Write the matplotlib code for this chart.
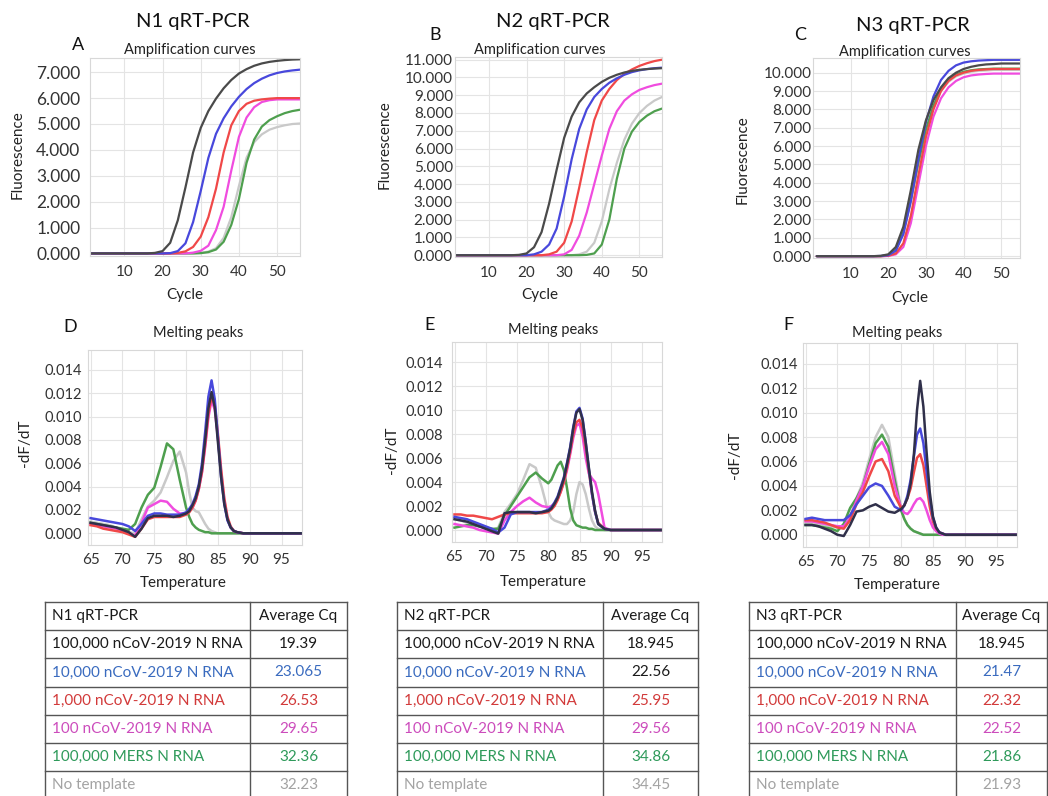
import matplotlib
matplotlib.use("Agg")
import matplotlib.pyplot as plt
from matplotlib.ticker import FormatStrFormatter

plt.rcParams['font.family'] = ['Lato', 'DejaVu Sans']

W, H = 1048, 796

# ---- table data
samples = ["100,000 nCoV-2019 N RNA", "10,000 nCoV-2019 N RNA", "1,000 nCoV-2019 N RNA",
           "100 nCoV-2019 N RNA", "100,000 MERS N RNA", "No template"]
assays = ["N1 qRT-PCR", "N2 qRT-PCR", "N3 qRT-PCR"]
cq_n1 = [19.39, 23.065, 26.53, 29.65, 32.36, 32.23]
cq_n2 = [18.945, 22.56, 25.95, 29.56, 34.86, 34.45]
cq_n3 = [18.945, 21.47, 22.32, 22.52, 21.86, 21.93]

# ---- amplification curves (fluorescence)
cycles = [1, 10, 16, 18, 20, 22, 24, 26, 28, 30, 32, 34, 36, 38, 40, 42, 44, 46, 48, 50, 52, 54, 56]

n1_black = [0, 0, 0, 0.02, 0.09, 0.41, 1.28, 2.55, 3.90, 4.85, 5.5, 5.98, 6.38, 6.7, 6.95, 7.12, 7.25, 7.34, 7.4, 7.44, 7.47, 7.49, 7.5]
n1_blue = [0, 0, 0, 0, 0, 0.01, 0.09, 0.39, 1.21, 2.41, 3.69, 4.62, 5.22, 5.68, 6.05, 6.35, 6.58, 6.75, 6.88, 6.97, 7.03, 7.07, 7.1]
n1_red = [0, 0, 0, 0, 0, 0, 0.02, 0.08, 0.25, 0.65, 1.4, 2.5, 3.9, 4.95, 5.5, 5.78, 5.9, 5.95, 5.98, 6.0, 6.0, 6.0, 6.0]
n1_magenta = [0, 0, 0, 0, 0, 0, 0, 0, 0.03, 0.1, 0.3, 0.9, 1.8, 3.2, 4.5, 5.25, 5.65, 5.85, 5.92, 5.95, 5.95, 5.95, 5.95]
n1_green = [0, 0, 0, 0, 0, 0, 0, 0, 0, 0.01, 0.05, 0.15, 0.45, 1.1, 2.1, 3.5, 4.4, 4.9, 5.15, 5.3, 5.42, 5.5, 5.55]
n1_gray = [0, 0, 0, 0, 0, 0, 0, 0, 0, 0.02, 0.07, 0.2, 0.6, 1.4, 2.6, 3.7, 4.3, 4.6, 4.78, 4.88, 4.95, 5.0, 5.02]

n2_black = [0, 0, 0, 0.02, 0.1, 0.45, 1.3, 2.9, 4.8, 6.6, 7.8, 8.6, 9.1, 9.45, 9.75, 9.98, 10.15, 10.28, 10.37, 10.43, 10.47, 10.5, 10.52]
n2_blue = [0, 0, 0, 0, 0, 0.05, 0.2, 0.6, 1.5, 3.3, 5.4, 7.1, 8.2, 8.9, 9.35, 9.7, 9.95, 10.15, 10.3, 10.4, 10.47, 10.52, 10.55]
n2_red = [0, 0, 0, 0, 0, 0, 0, 0.05, 0.2, 0.7, 1.9, 3.8, 5.8, 7.6, 8.7, 9.35, 9.85, 10.2, 10.45, 10.65, 10.8, 10.92, 11.0]
n2_magenta = [0, 0, 0, 0, 0, 0, 0, 0, 0, 0.05, 0.3, 1.1, 2.4, 4.0, 5.6, 7.1, 8.1, 8.7, 9.05, 9.3, 9.45, 9.57, 9.65]
n2_green = [0, 0, 0, 0, 0, 0, 0, 0, 0, 0, 0, 0, 0.02, 0.1, 0.6, 2.0, 4.3, 6.0, 6.95, 7.5, 7.85, 8.1, 8.25]
n2_gray = [0, 0, 0, 0, 0, 0, 0, 0, 0, 0, 0, 0.05, 0.2, 0.7, 1.9, 3.7, 5.2, 6.5, 7.4, 8.0, 8.4, 8.7, 8.9]

n3_black = [0, 0, 0, 0.02, 0.1, 0.5, 1.6, 3.6, 5.8, 7.4, 8.5, 9.2, 9.7, 10.0, 10.2, 10.32, 10.4, 10.45, 10.47, 10.5, 10.5, 10.5, 10.5]
n3_blue = [0, 0, 0, 0.01, 0.05, 0.3, 1.2, 3.0, 5.3, 7.3, 8.7, 9.6, 10.1, 10.4, 10.55, 10.62, 10.66, 10.68, 10.7, 10.7, 10.7, 10.7, 10.7]
n3_red = [0, 0, 0, 0, 0.02, 0.15, 0.7, 2.2, 4.4, 6.5, 8.0, 9.0, 9.55, 9.85, 10.0, 10.1, 10.15, 10.18, 10.2, 10.2, 10.2, 10.2, 10.2]
n3_magenta = [0, 0, 0, 0, 0.01, 0.1, 0.5, 1.8, 3.9, 6.0, 7.6, 8.6, 9.2, 9.55, 9.75, 9.85, 9.9, 9.93, 9.95, 9.95, 9.95, 9.95, 9.95]
n3_green = [0, 0, 0, 0, 0.05, 0.35, 1.3, 3.1, 5.1, 6.9, 8.2, 9.1, 9.6, 9.9, 10.05, 10.13, 10.18, 10.2, 10.22, 10.22, 10.22, 10.22, 10.22]
n3_gray = [0, 0, 0, 0, 0.03, 0.3, 1.2, 3.0, 5.0, 6.8, 8.1, 9.0, 9.5, 9.8, 9.95, 10.05, 10.1, 10.12, 10.15, 10.15, 10.15, 10.15, 10.15]

# ---- melting peaks (-dF/dT); half-degree steps around the main peaks
temps = [65, 66, 67, 68, 69, 70, 71, 72, 73, 74, 75, 76, 77, 78, 79,
         80, 80.5, 81, 81.5, 82, 82.5, 83, 83.5, 84, 84.5, 85, 85.5, 86, 86.5, 87, 87.5, 88,
         89, 90, 94, 98]

m1_black = [0.0009, 0.0008, 0.0007, 0.0006, 0.0005, 0.0003, 0.0001, -0.0003, 0.0004, 0.0013, 0.0015, 0.0015, 0.0015, 0.0014, 0.0015,
            0.0017, 0.0019, 0.0024, 0.0030, 0.0040, 0.0056, 0.0080, 0.0107, 0.0121, 0.0108, 0.0078, 0.0048, 0.0025, 0.0012, 0.0005, 0.0002, 0.0001,
            0, 0, 0, 0]
m1_blue = [0.0013, 0.0012, 0.0011, 0.0010, 0.0009, 0.0008, 0.0006, 0.0002, 0.0008, 0.0015, 0.0017, 0.0017, 0.0016, 0.0016, 0.0016,
           0.0018, 0.0021, 0.0025, 0.0032, 0.0042, 0.0060, 0.0087, 0.0117, 0.0131, 0.0115, 0.0082, 0.0048, 0.0025, 0.0011, 0.0005, 0.0002, 0.0001,
           0, 0, 0, 0]
m1_red = [0.0007, 0.0006, 0.0004, 0.0003, 0.0002, 0.0001, -0.0001, -0.0003, 0.0004, 0.0012, 0.0014, 0.0014, 0.0014, 0.0014, 0.0014,
          0.0016, 0.0018, 0.0022, 0.0028, 0.0038, 0.0053, 0.0076, 0.0102, 0.0117, 0.0110, 0.0085, 0.0055, 0.0030, 0.0014, 0.0006, 0.0002, 0.0001,
          0, 0, 0, 0]
m1_magenta = [0.0008, 0.0007, 0.0006, 0.0005, 0.0004, 0.0002, 0.0, -0.0002, 0.0009, 0.0022, 0.0025, 0.0028, 0.0027, 0.0021, 0.0017,
              0.0017, 0.0019, 0.0022, 0.0028, 0.0038, 0.0052, 0.0074, 0.0099, 0.0114, 0.0106, 0.0082, 0.0052, 0.0028, 0.0012, 0.0005, 0.0002, 0.0001,
              0, 0, 0, 0]
m1_green = [0.0009, 0.0008, 0.0007, 0.0006, 0.0005, 0.0004, 0.0003, 0.0008, 0.0022, 0.0033, 0.0039, 0.0057, 0.0077, 0.0072, 0.0046,
            0.0022, 0.0014, 0.0008, 0.0005, 0.0003, 0.0002, 0.0001, 0.0001, 0, 0, 0, 0, 0, 0, 0, 0, 0,
            0, 0, 0, 0]
m1_gray = [0.0010, 0.0009, 0.0008, 0.0007, 0.0005, 0.0003, 0.0001, 0.0, 0.0012, 0.0023, 0.0028, 0.0035, 0.0048, 0.0062, 0.0070,
           0.0052, 0.0035, 0.0022, 0.0019, 0.0018, 0.0013, 0.0008, 0.0004, 0.0002, 0.0001, 0, 0, 0, 0, 0, 0, 0,
           0, 0, 0, 0]

m2_black = [0.0009, 0.0008, 0.0007, 0.0005, 0.0003, 0.0001, -0.0001, -0.0003, 0.0014, 0.0015, 0.0015, 0.0015, 0.0015, 0.0014, 0.0015,
            0.0016, 0.0018, 0.0022, 0.0027, 0.0035, 0.0043, 0.0055, 0.0068, 0.0085, 0.0098, 0.0101, 0.0092, 0.0073, 0.0052, 0.0032, 0.0016, 0.0005,
            0.0001, 0, 0, 0]
m2_blue = [0.0011, 0.0010, 0.0009, 0.0007, 0.0005, 0.0003, 0.0001, -0.0002, 0.0002, 0.0013, 0.0015, 0.0015, 0.0015, 0.0015, 0.0015,
           0.0017, 0.0019, 0.0023, 0.0028, 0.0036, 0.0044, 0.0056, 0.0069, 0.0086, 0.0099, 0.0102, 0.0093, 0.0073, 0.0051, 0.0030, 0.0015, 0.0005,
           0.0001, 0, 0, 0]
m2_red = [0.0013, 0.0013, 0.0012, 0.0012, 0.0011, 0.0010, 0.0009, 0.0011, 0.0013, 0.0014, 0.0014, 0.0014, 0.0014, 0.0014, 0.0014,
          0.0015, 0.0017, 0.0020, 0.0025, 0.0032, 0.0040, 0.0052, 0.0065, 0.0080, 0.0090, 0.0092, 0.0085, 0.0068, 0.0049, 0.0030, 0.0015, 0.0006,
          0.0001, 0, 0, 0]
m2_magenta = [0.0005, 0.0004, 0.0003, 0.0002, 0.0, -0.0001, -0.0002, -0.0003, 0.0008, 0.0015, 0.0020, 0.0024, 0.0027, 0.0023, 0.0020,
              0.0019, 0.0020, 0.0022, 0.0026, 0.0032, 0.0040, 0.0050, 0.0063, 0.0077, 0.0087, 0.0089, 0.0078, 0.0060, 0.0047, 0.0043, 0.0040, 0.0030,
              0.0002, 0, 0, 0]
m2_green = [0.0002, 0.0003, 0.0004, 0.0004, 0.0003, 0.0002, 0.0001, 0.0001, 0.0012, 0.0020, 0.0028, 0.0036, 0.0044, 0.0048, 0.0043,
            0.0039, 0.0042, 0.0048, 0.0054, 0.0057, 0.0050, 0.0035, 0.0018, 0.0008, 0.0004, 0.0003, 0.0002, 0.0002, 0.0001, 0.0001, 0, 0,
            0, 0, 0, 0]
m2_gray = [0.0009, 0.0008, 0.0006, 0.0005, 0.0003, 0.0001, 0.0, 0.0002, 0.0015, 0.0022, 0.0030, 0.0042, 0.0055, 0.0052, 0.0035,
           0.0015, 0.0010, 0.0008, 0.0007, 0.0006, 0.0005, 0.0005, 0.0008, 0.0015, 0.0030, 0.0040, 0.0038, 0.0030, 0.0018, 0.0008, 0.0003, 0.0001,
           0, 0, 0, 0]

m3_black = [0.0008, 0.0008, 0.0007, 0.0005, 0.0003, 0.0, -0.0001, 0.0008, 0.0019, 0.0020, 0.0023, 0.0025, 0.0022, 0.0019, 0.0018,
            0.0021, 0.0024, 0.0030, 0.0042, 0.0065, 0.0102, 0.0126, 0.0105, 0.0068, 0.0035, 0.0015, 0.0006, 0.0002, 0.0001, 0, 0, 0,
            0, 0, 0, 0]
m3_blue = [0.0013, 0.0014, 0.0013, 0.0012, 0.0012, 0.0012, 0.0012, 0.0016, 0.0025, 0.0032, 0.0039, 0.0042, 0.0040, 0.0032, 0.0023,
           0.0020, 0.0024, 0.0032, 0.0045, 0.0064, 0.0082, 0.0087, 0.0075, 0.0052, 0.0030, 0.0014, 0.0006, 0.0002, 0.0001, 0, 0, 0,
           0, 0, 0, 0]
m3_red = [0.0012, 0.0012, 0.0011, 0.0010, 0.0008, 0.0006, 0.0005, 0.0012, 0.0025, 0.0035, 0.0048, 0.0060, 0.0062, 0.0052, 0.0032,
          0.0022, 0.0024, 0.0030, 0.0038, 0.0051, 0.0063, 0.0066, 0.0057, 0.0040, 0.0023, 0.0011, 0.0005, 0.0002, 0.0001, 0, 0, 0,
          0, 0, 0, 0]
m3_magenta = [0.0011, 0.0011, 0.0010, 0.0009, 0.0008, 0.0007, 0.0007, 0.0014, 0.0028, 0.0040, 0.0056, 0.0070, 0.0076, 0.0066, 0.0040,
              0.0022, 0.0018, 0.0017, 0.0020, 0.0025, 0.0029, 0.0030, 0.0027, 0.0020, 0.0012, 0.0006, 0.0003, 0.0001, 0, 0, 0, 0,
              0, 0, 0, 0]
m3_green = [0.0008, 0.0008, 0.0007, 0.0006, 0.0005, 0.0003, 0.0009, 0.0022, 0.0030, 0.0040, 0.0058, 0.0075, 0.0082, 0.0072, 0.0045,
            0.0020, 0.0013, 0.0008, 0.0005, 0.0003, 0.0002, 0.0001, 0, 0, 0, 0, 0, 0, 0, 0, 0, 0,
            0, 0, 0, 0]
m3_gray = [0.0010, 0.0010, 0.0009, 0.0008, 0.0007, 0.0006, 0.0007, 0.0015, 0.0030, 0.0043, 0.0062, 0.0080, 0.0090, 0.0080, 0.0050,
           0.0022, 0.0013, 0.0008, 0.0005, 0.0003, 0.0002, 0.0001, 0, 0, 0, 0, 0, 0, 0, 0, 0, 0,
           0, 0, 0, 0]

# line colours (drawing order: gray, green, magenta, red, blue, black)
line_cols = ["#c9c9c9", "#4e9f4e", "#f04cdf", "#f04848", "#4848dc", "#4a4a4a"]
melt_dark = "#30304a"
text_cols = ["#1a1a1a", "#3a6bbf", "#d23a3a", "#cc4cbc", "#2e9a5a", "#a3a3a3"]


def fx(x):
    return x / W


def fy(y):
    return 1 - y / H


def rect(l, t, r, b):
    return [fx(l), fy(b), (r - l) / W, (b - t) / H]


def style_axes(ax, ypad, ysize):
    ax.grid(True, color="#e4e4e4", lw=0.8)
    ax.set_axisbelow(True)
    for s in ax.spines.values():
        s.set_color("#d8d8d8")
        s.set_linewidth(0.8)
    ax.tick_params(length=0, labelcolor="#333333")
    ax.tick_params(axis="x", pad=6.5, labelsize=11)
    ax.tick_params(axis="y", pad=ypad, labelsize=ysize)


fig = plt.figure(figsize=(W / 100, H / 100), dpi=100)

amp = [
    ([n1_gray, n1_green, n1_magenta, n1_red, n1_blue, n1_black], (90, 58, 300, 256), (1, 56), (-0.1, 7.55), 7, 7, 12.5),
    ([n2_gray, n2_green, n2_magenta, n2_red, n2_blue, n2_black], (455, 57, 662, 257), (1, 56), (-0.1, 11.15), 11, 1.5, 11),
    ([n3_gray, n3_green, n3_magenta, n3_red, n3_blue, n3_black], (813, 58, 1020, 258), (0, 55), (-0.1, 10.8), 10, 1, 11),
]
for curves, box, xl, yl, ymax, ypad, ysize in amp:
    ax = fig.add_axes(rect(*box))
    for c, ys in zip(line_cols, curves):
        ax.plot(cycles, ys, color=c, lw=1.6, solid_capstyle="round", solid_joinstyle="round")
    ax.set_xlim(*xl)
    ax.set_ylim(*yl)
    ax.set_xticks([10, 20, 30, 40, 50])
    ax.set_yticks(range(0, ymax + 1))
    ax.yaxis.set_major_formatter(FormatStrFormatter("%.3f"))
    style_axes(ax, ypad, ysize)

melt = [
    ([m1_gray, m1_green, m1_magenta, m1_red, m1_blue, m1_black], (88, 350, 302, 545), 4.5),
    ([m2_gray, m2_green, m2_magenta, m2_red, m2_blue, m2_black], (452, 342, 662, 542), 6.5),
    ([m3_gray, m3_green, m3_magenta, m3_red, m3_blue, m3_black], (803, 343, 1017, 547), 3.5),
]
for curves, box, ypad in melt:
    ax = fig.add_axes(rect(*box))
    cols = line_cols[:-1] + [melt_dark]
    for c, ys in zip(cols, curves):
        ax.plot(temps, ys, color=c, lw=1.8, solid_joinstyle="round")
    ax.set_xlim(64.6, 98.2)
    ax.set_ylim(-0.001, 0.0157)
    ax.set_xticks([65, 70, 75, 80, 85, 90, 95])
    ax.set_yticks([0, 0.002, 0.004, 0.006, 0.008, 0.010, 0.012, 0.014])
    ax.yaxis.set_major_formatter(FormatStrFormatter("%.3f"))
    style_axes(ax, ypad, 10.5)
    ax.tick_params(axis="x", labelsize=11, pad=5.5)

# ---- texts
def txt(x, y, s, **kw):
    fig.text(fx(x), fy(y), s, ha=kw.pop("ha", "center"), va=kw.pop("va", "center"), **kw)


for s, (x, y) in zip(assays, [(193, 22), (553, 22), (913, 25)]):
    txt(x, y, s, fontsize=14.5, color="#111111")
for s, (x, y) in zip("ABCDEF", [(78, 45), (435, 35), (800, 35), (70, 327), (430, 325), (788, 325)]):
    txt(x, y, s, fontsize=13, color="#111111")
for x, y in [(190, 50), (540, 50), (905, 52)]:
    txt(x, y, "Amplification curves", fontsize=10.5, color="#222222")
for x, y in [(198, 333), (553, 330), (897, 333)]:
    txt(x, y, "Melting peaks", fontsize=10.5, color="#222222")
for x, y in [(185, 295), (540, 295), (910, 298)]:
    txt(x, y, "Cycle", fontsize=11, color="#222222")
for x, y in [(183, 583), (543, 582), (897, 585)]:
    txt(x, y, "Temperature", fontsize=11, color="#222222")
for x, y in [(18, 155), (385, 145), (743, 160)]:
    txt(x, y, "Fluorescence", fontsize=11, color="#222222", rotation=90)
for x, y in [(25, 443), (392, 450), (735, 455)]:
    txt(x, y, "-dF/dT", fontsize=11, color="#222222", rotation=90)

# ---- tables
tab = fig.add_axes([0, 0, 1, 1], facecolor="none")
tab.set_xlim(0, W)
tab.set_ylim(H, 0)
tab.axis("off")
row_top = 602
row_h = 28.2
fs_tab = 11
for name, cqs, (l, m, r) in zip(assays, [cq_n1, cq_n2, cq_n3],
                                [(45, 250, 347), (397, 603, 698), (749, 956, 1047)]):
    n = len(samples) + 1
    bottom = row_top + n * row_h
    for i in range(n + 1):
        yy = row_top + i * row_h
        tab.plot([l, r], [yy, yy], color="#555555", lw=1.0, clip_on=False)
    for xx in (l, m, r):
        tab.plot([xx, xx], [row_top, bottom], color="#555555", lw=1.0, clip_on=False)
    yc = row_top + row_h / 2
    tab.text(l + 7, yc, name, ha="left", va="center", fontsize=fs_tab, color="#1a1a1a")
    tab.text((m + r) / 2, yc, "Average Cq", ha="center", va="center", fontsize=fs_tab, color="#1a1a1a")
    for i, (s, v) in enumerate(zip(samples, cqs)):
        yc = row_top + (i + 1.5) * row_h
        vc = text_cols[i]
        if name == "N2 qRT-PCR" and i == 1:
            vc = "#1a1a1a"
        tab.text(l + 7, yc, s, ha="left", va="center", fontsize=fs_tab, color=text_cols[i])
        tab.text((m + r) / 2, yc, f"{v:g}", ha="center", va="center", fontsize=fs_tab, color=vc)

fig.savefig("out.png", dpi=100)
